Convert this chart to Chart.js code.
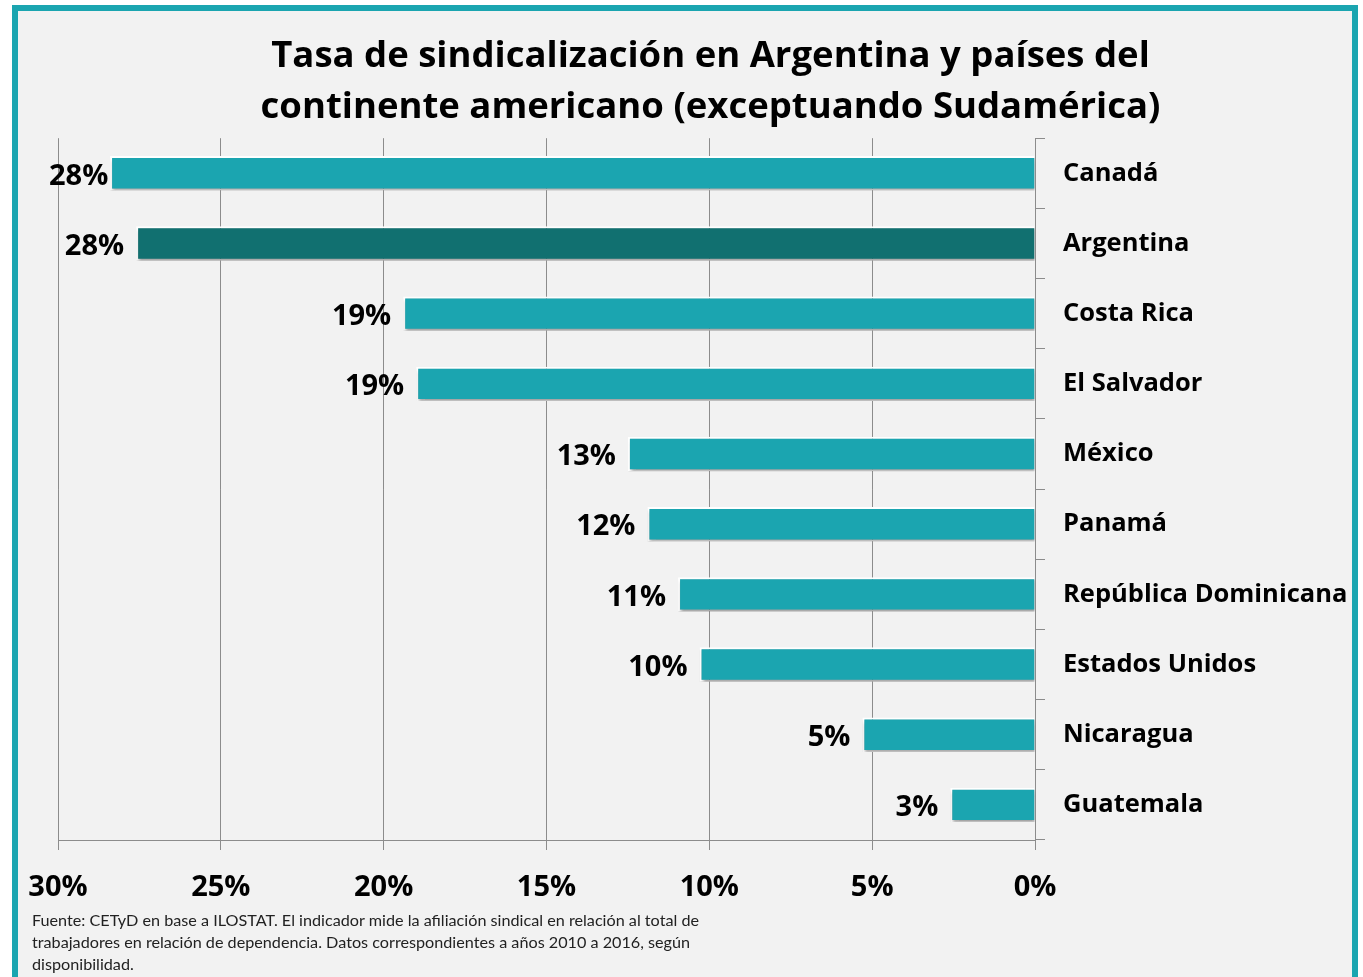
<!DOCTYPE html>
<html>
<head>
<meta charset="utf-8">
<script src="https://cdn.jsdelivr.net/npm/chart.js@4/dist/chart.umd.min.js"></script>
<style>
  html, body { margin: 0; padding: 0; background: #fff; }
  #frame {
    position: absolute; left: 12px; top: 5px; width: 1346px; height: 1000px;
    box-sizing: border-box; border: 6px solid #1ba5b0; background: #f2f2f2;
  }
  #wrap { position: absolute; left: 0; top: 0; width: 1363px; height: 977px; }
  #note {
    position: absolute; left: 32px; top: 909px; width: 720px;
    font-family: Lato, sans-serif; font-size: 16.2px; line-height: 22px; color: #222;
  }
</style>
</head>
<body>
<div id="frame"></div>
<div id="wrap"><canvas id="chart"></canvas></div>
<div id="note">Fuente: CETyD en base a ILOSTAT. El indicador mide la afiliación sindical en relación al total de<br>trabajadores en relación de dependencia. Datos correspondientes a años 2010 a 2016, según<br>disponibilidad.</div>
<script>
// ------- Data -------
const countries = ['Canadá', 'Argentina', 'Costa Rica', 'El Salvador', 'México', 'Panamá',
  'República Dominicana', 'Estados Unidos', 'Nicaragua', 'Guatemala'];
const rates = [28.4, 27.6, 19.4, 19.0, 12.5, 11.9, 10.96, 10.3, 5.3, 2.6];
const rateLabels = ['28%', '28%', '19%', '19%', '13%', '12%', '11%', '10%', '5%', '3%'];
const highlight = 'Argentina';

const TEAL = '#1ba5b0';
const DARK = '#117070';
const FONT = '"Open Sans", sans-serif';

// soft shadow under bars
const shadowPlugin = {
  id: 'barShadow',
  beforeDatasetsDraw(chart) {
    const ctx = chart.ctx;
    ctx.save();
    ctx.shadowColor = 'rgba(0,0,0,0.35)';
    ctx.shadowOffsetX = 1;
    ctx.shadowOffsetY = 3;
    ctx.shadowBlur = 3;
  },
  afterDatasetsDraw(chart) { chart.ctx.restore(); }
};

// value labels at the end of each bar
const valueLabels = {
  id: 'valueLabels',
  afterDraw(chart) {
    const ctx = chart.ctx;
    const meta = chart.getDatasetMeta(0);
    ctx.save();
    ctx.font = 'bold 29px ' + FONT;
    ctx.fillStyle = '#000';
    ctx.textAlign = 'right';
    ctx.textBaseline = 'middle';
    meta.data.forEach((bar, i) => {
      const txt = rateLabels[i];
      const w = ctx.measureText(txt).width;
      let x = bar.x - 12;
      const minLeft = chart.chartArea.left - 9;
      if (x - w < minLeft) x = minLeft + w;
      ctx.fillText(txt, x, bar.y + 3);
    });
    ctx.restore();
  }
};

const ctx = document.getElementById('chart').getContext('2d');
new Chart(ctx, {
  type: 'bar',
  data: {
    labels: countries,
    datasets: [{
      data: rates,
      backgroundColor: countries.map(c => c === highlight ? DARK : TEAL),
      borderColor: '#ffffff',
      borderWidth: 2,
      barPercentage: 0.49,
      categoryPercentage: 1
    }]
  },
  options: {
    indexAxis: 'y',
    responsive: true,
    maintainAspectRatio: false,
    animation: false,
    layout: { padding: { left: 58, right: 0, top: 0, bottom: 67 } },
    plugins: {
      legend: { display: false },
      tooltip: { enabled: false },
      title: {
        display: true,
        text: ['Tasa de sindicalización en Argentina y países del',
               'continente americano (exceptuando Sudamérica)'],
        color: '#000',
        font: { family: FONT, size: 36.5, weight: 'bold', lineHeight: 1.4 },
        padding: { top: 31, bottom: 5 }
      }
    },
    scales: {
      x: {
        reverse: true,
        min: 0, max: 30,
        ticks: {
          stepSize: 5,
          color: '#000',
          padding: 20,
          font: { family: FONT, size: 29, weight: 'bold' },
          callback: v => v + '%'
        },
        grid: { color: '#8c8c8c', lineWidth: 1, tickLength: 10 },
        border: { color: '#8c8c8c' },
        afterFit(scale) { scale.height = 70; }
      },
      y: {
        position: 'right',
        ticks: {
          color: '#000',
          padding: 18,
          font: { family: FONT, size: 25.5, weight: 'bold' }
        },
        grid: { drawOnChartArea: false, color: '#8c8c8c', tickLength: 10 },
        border: { color: '#8c8c8c' },
        afterFit(scale) { scale.width = 328; }
      }
    }
  },
  plugins: [shadowPlugin, valueLabels]
});
</script>
</body>
</html>
